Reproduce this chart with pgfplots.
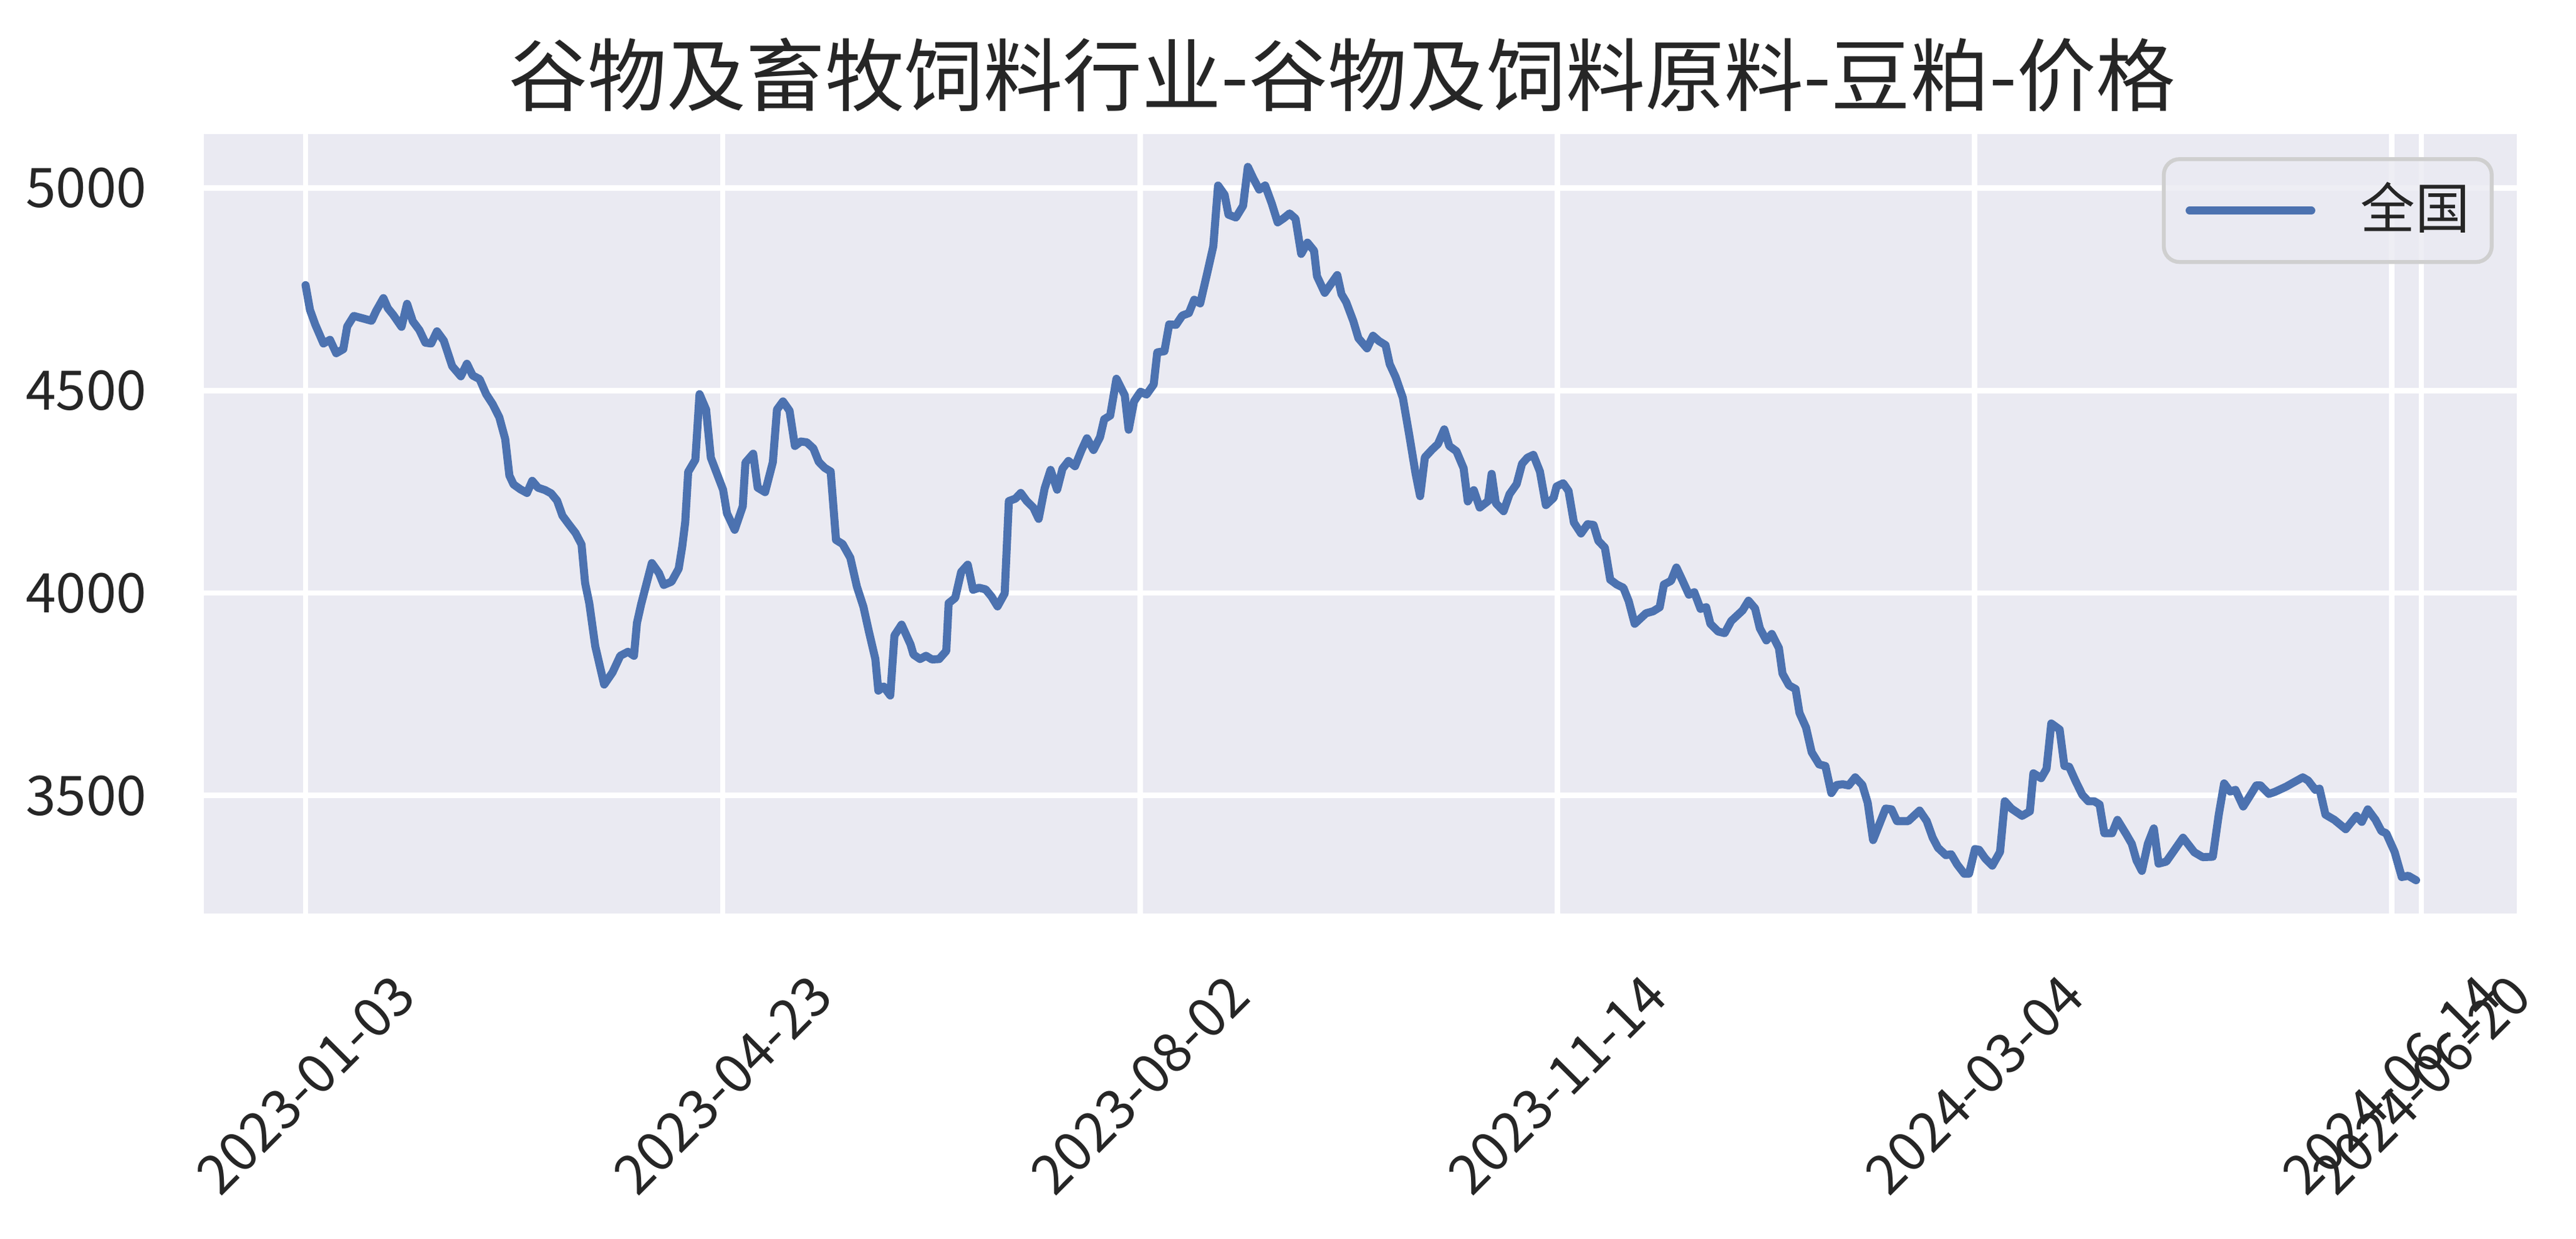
\documentclass[border=0pt]{standalone}
\usepackage{fontspec}
\setmainfont{Noto Sans CJK SC}
\usepackage{pgfplots}
\pgfplotsset{compat=1.18}
\definecolor{bg}{HTML}{EAEAF2}
\definecolor{sblue}{HTML}{4C72B0}
\definecolor{txt}{HTML}{262626}
\definecolor{legedge}{HTML}{CFCFCF}

\begin{document}
\begin{tikzpicture}
\begin{axis}[
  scale only axis,
  width=890.2pt, height=300pt,
  xmin=-17.05, xmax=371.0,
  ymin=3209, ymax=5133,
  axis background/.style={fill=bg},
  axis line style={draw=none},
  major tick length=0pt,
  grid=major,
  major grid style={white, line width=2.1pt},
  xtick={0,70,140,210,280,350,355},
  xticklabels={2023-01-03,2023-04-23,2023-08-02,2023-11-14,2024-03-04,2024-06-14,2024-06-20},
  ytick={3500,4000,4500,5000},
  yticklabels={3500,4000,4500,5000},
  ticklabel style={font=\fontsize{21}{21}\selectfont, text=txt, inner sep=0pt},
  xticklabel style={yshift=-66pt, rotate=45, anchor=center},
  yticklabel style={anchor=east, xshift=-21.8pt},
  legend style={at={(1,1)}, anchor=north east, xshift=-8.9pt, yshift=-8.9pt,
    draw=legedge, line width=1.5pt, rounded corners=6pt,
    fill=bg, fill opacity=0.8, text opacity=1,
    inner xsep=8.4pt, inner ysep=9.8pt,
    font=\fontsize{21}{21}\selectfont, text=txt,
    cells={anchor=west},
    nodes={inner sep=0pt, text height=17pt, text depth=3pt},
    /tikz/every odd column/.append style={column sep=17.5pt}},
  legend image code/.code={
    \draw[#1] (0pt,0pt) -- (46.8pt,0pt);},
]
\addplot[sblue, line width=3.1pt, line join=round, line cap=round] coordinates {
(0,4760) (0.74,4699) (1.62,4663) (3.0,4616) (4.1,4625) (5.14,4592) (6.33,4602)
(6.99,4658) (8.09,4684) (9.85,4677) (11.08,4672) (11.83,4696) (13.06,4728)
(13.81,4703) (14.69,4687) (16.1,4657) (17.03,4714) (17.99,4671) (19.1,4649)
(20.1,4618) (21.08,4616) (22.05,4646) (23.19,4623) (24.6,4560) (26.05,4535)
(27.07,4566) (28.04,4537) (29.2,4528) (30.3,4491) (31.4,4466) (32.5,4434)
(33.5,4380) (34.2,4290) (34.9,4268) (36.05,4256) (37.15,4247) (38.03,4277)
(39.0,4260) (40.2,4254) (41.2,4246) (42.2,4228) (43.1,4191) (44.1,4171)
(45.3,4148) (46.3,4120) (46.9,4025) (47.6,3975) (48.6,3869) (50.1,3774)
(51.5,3804) (52.8,3845) (54.1,3855) (55.1,3845) (55.6,3926) (56.3,3972)
(58.1,4074) (59.3,4049) (60.1,4020) (61.4,4028) (62.6,4060) (63.2,4115)
(63.7,4175) (64.2,4299) (65.4,4329) (66.1,4491) (67.2,4453) (68.0,4334)
(70.05,4255) (70.7,4197) (72.0,4156) (73.35,4214) (73.8,4322) (75.1,4344)
(75.86,4260) (77.1,4249) (78.4,4323) (79.1,4453) (80.1,4473) (81.2,4450)
(82.1,4363) (83.1,4374) (84.1,4372) (85.2,4357) (86.1,4324) (87.1,4309)
(88.1,4300) (89.0,4131) (90.1,4121) (91.4,4087) (92.5,4016) (93.6,3966)
(94.5,3906) (95.6,3837) (96.1,3759) (97.0,3769) (98.1,3747) (98.8,3895)
(100.0,3922) (101.5,3873) (102.0,3848) (103.1,3837) (104.1,3845) (105.1,3836)
(106.3,3837) (107.5,3857) (107.9,3975) (109.0,3988) (110.0,4052) (111.1,4070)
(112.0,4008) (113.0,4013) (114.1,4009) (115.1,3991) (116.1,3967) (117.3,3999)
(118.0,4227) (119.1,4233) (120.0,4247) (121.0,4227) (122.1,4211) (123.0,4183)
(124.0,4258) (125.0,4304) (126.1,4255) (127.0,4307) (128.0,4326) (129.1,4313)
(130.2,4353) (131.1,4382) (132.2,4353) (133.3,4385) (134.0,4429) (135.0,4438)
(136.05,4529) (137.45,4488) (138.1,4403) (139.0,4473) (140.1,4497) (141.1,4490)
(142.3,4515) (142.9,4594) (144.1,4597) (144.9,4663) (146.05,4662) (147.1,4685)
(148.2,4691) (149.1,4724) (150.1,4715) (151.3,4791) (152.3,4856) (153.1,5006)
(154.2,4983) (154.85,4934) (156.1,4927) (157.3,4956) (158.1,5052) (159.0,5024)
(160.0,4996) (161.0,5006) (162.1,4962) (163.1,4915) (164.1,4925) (165.1,4937)
(166.1,4924) (167.05,4837) (168.1,4865) (169.2,4845) (169.7,4782) (171.0,4741)
(172.0,4762) (173.1,4785) (173.8,4738) (174.6,4718) (175.8,4671) (176.65,4629)
(178.1,4604) (179.1,4635) (180.1,4622) (181.2,4612) (181.9,4565) (182.9,4533)
(184.1,4482) (185.2,4388) (186.25,4294) (187.0,4239) (187.8,4335) (189.0,4354)
(190.0,4368) (191.05,4404) (191.9,4363) (193.1,4350) (194.3,4308) (195.0,4226)
(196.0,4254) (197.0,4211) (198.4,4227) (199.0,4294) (199.7,4222) (201.0,4202)
(202.0,4244) (203.2,4269) (204.1,4319) (205.0,4334) (206.0,4341) (207.1,4300)
(208.1,4217) (209.4,4235) (209.9,4263) (211.0,4271) (211.9,4252) (212.8,4174)
(214.0,4147) (215.1,4170) (216.1,4168) (216.9,4129) (218.0,4112) (218.9,4033)
(220.0,4021) (221.1,4013) (222.0,3980) (223.0,3924) (224.9,3950) (226.1,3955)
(227.2,3965) (227.9,4021) (229.1,4030) (230.0,4063) (231.05,4030) (232.1,3996)
(233.0,4002) (234.05,3961) (235.0,3965) (235.7,3924) (237.0,3905) (238.1,3901)
(239.2,3931) (241.1,3957) (242.1,3981) (243.2,3962) (244.0,3913) (245.1,3883)
(246.0,3899) (247.2,3864) (247.8,3801) (248.9,3772) (250.0,3763) (250.65,3704)
(251.75,3668) (252.7,3607) (253.95,3577) (255.0,3573) (256.0,3506) (256.9,3526)
(257.9,3528) (258.9,3525) (260.0,3545) (261.2,3526) (262.1,3482) (263.0,3390)
(265.1,3468) (266.1,3466) (267.0,3437) (268.9,3437) (270.8,3463) (272.0,3437)
(273.0,3396) (273.9,3371) (275.2,3353) (276.1,3355) (277.1,3330) (278.3,3307)
(279.1,3307) (280.1,3368) (280.8,3366) (281.8,3345) (283.0,3327) (284.3,3361)
(285.1,3486) (286.2,3468) (288.0,3450) (289.3,3461) (289.9,3555) (291.2,3543)
(292.1,3566) (292.9,3678) (294.3,3663) (295.1,3573) (295.9,3571) (297.0,3535)
(298.1,3502) (299.1,3486) (300.1,3486) (301.0,3478) (301.8,3407) (303.1,3407)
(304.0,3440) (305.5,3404) (306.4,3381) (307.2,3340) (308.1,3314) (309.1,3381)
(310.1,3419) (310.9,3332) (312.2,3337) (313.3,3360) (315.0,3396) (316.9,3360)
(318.3,3348) (320.0,3349) (321.0,3453) (321.9,3530) (322.9,3510) (323.8,3514)
(325.1,3473) (326.0,3494) (327.3,3525) (328.0,3525) (329.4,3504) (330.4,3509)
(332.3,3522) (333.5,3532) (335.1,3545) (336.0,3537) (337.2,3514) (337.9,3517)
(338.9,3453) (340.4,3440) (342.3,3417) (344.1,3450) (345.0,3435) (346.0,3466)
(347.3,3440) (348.3,3412) (349.1,3407) (350.5,3361) (351.7,3299) (352.8,3302)
(354.1,3291)
};
\addlegendentry{全国}
\end{axis}
\node[font=\fontsize{30.5}{30.5}\selectfont, text=txt, inner sep=0pt] at (438pt,322.8pt)
  {谷物及畜牧饲料行业-谷物及饲料原料-豆粕-价格};
\path (-78.5pt,-125.3pt) rectangle (913.0pt,351.6pt);
\end{tikzpicture}
\end{document}
